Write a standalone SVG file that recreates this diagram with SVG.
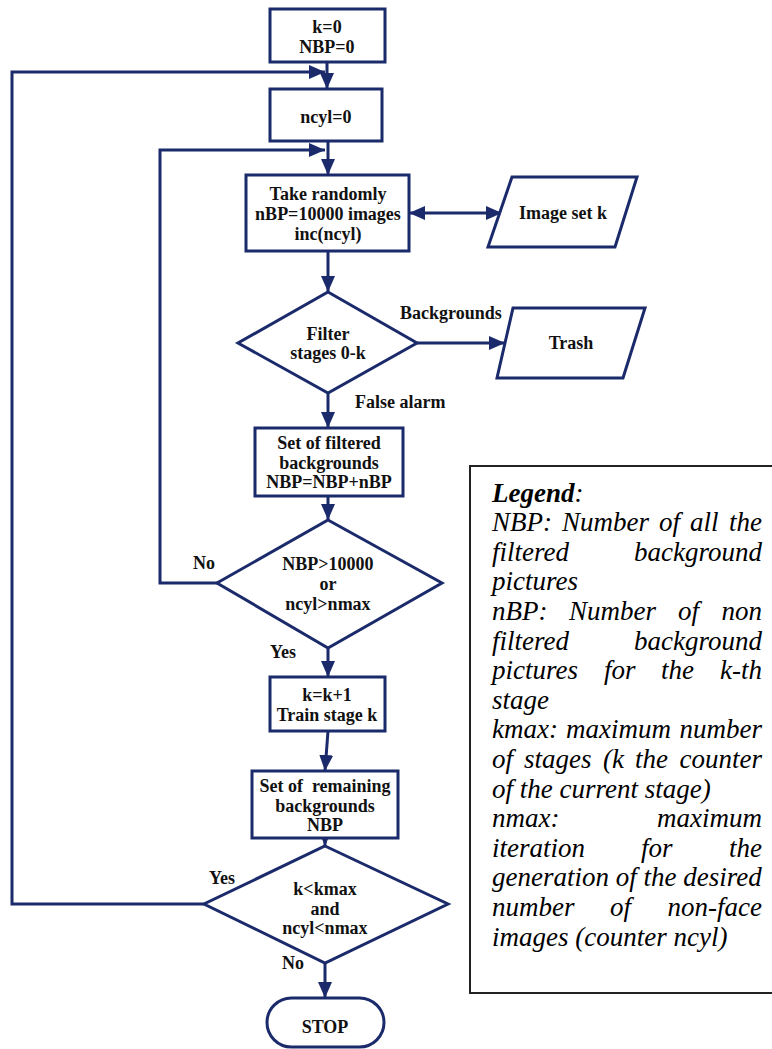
<svg xmlns="http://www.w3.org/2000/svg" width="772" height="1049" viewBox="0 0 772 1049">
<defs>
<style>
.shape{fill:#fff;stroke:#1b2a6b;stroke-width:3}
.conn{fill:none;stroke:#1b2a6b;stroke-width:3}
.t{font-family:"Liberation Serif","Times New Roman",serif;font-weight:bold;font-size:18px;fill:#111;text-anchor:middle}
.lbl{font-family:"Liberation Serif","Times New Roman",serif;font-weight:bold;font-size:18px;fill:#111}
.lg{font-family:"Liberation Serif","Times New Roman",serif;font-style:italic;font-size:27px;fill:#000}
.e{text-anchor:end}
</style>
<marker id="arr" markerUnits="userSpaceOnUse" markerWidth="17" markerHeight="15" refX="16" refY="7" orient="auto-start-reverse">
<path d="M0,0 L16,7 L0,14 z" fill="#1b2a6b"/>
</marker>
</defs>
<rect width="772" height="1049" fill="#fff"/>

<g id="connectors">
<line class="conn" x1="327" y1="62" x2="327" y2="89" marker-end="url(#arr)"/>
<polyline class="conn" points="204,904 12,904 12,72 325,72" marker-end="url(#arr)"/>
<line class="conn" x1="328" y1="141" x2="328" y2="175" marker-end="url(#arr)"/>
<polyline class="conn" points="217,583 160,583 160,150 325,150" marker-end="url(#arr)"/>
<line class="conn" x1="409" y1="213" x2="502" y2="213" marker-start="url(#arr)" marker-end="url(#arr)"/>
<line class="conn" x1="328" y1="251" x2="328" y2="292" marker-end="url(#arr)"/>
<line class="conn" x1="417" y1="343" x2="505" y2="343" marker-end="url(#arr)"/>
<line class="conn" x1="328" y1="393" x2="328" y2="428" marker-end="url(#arr)"/>
<line class="conn" x1="328" y1="496" x2="328" y2="520" marker-end="url(#arr)"/>
<line class="conn" x1="328" y1="648" x2="328" y2="677" marker-end="url(#arr)"/>
<line class="conn" x1="328" y1="731" x2="325" y2="771" marker-end="url(#arr)"/>
<line class="conn" x1="325" y1="830" x2="325" y2="846" marker-end="url(#arr)"/>
<line class="conn" x1="325" y1="963" x2="325" y2="998" marker-end="url(#arr)"/>
<text class="lbl" x="400" y="319">Backgrounds</text>
<text class="lbl" x="355" y="408">False alarm</text>
<text class="lbl" x="193" y="569">No</text>
<text class="lbl" x="270" y="658">Yes</text>
<text class="lbl" x="209" y="884">Yes</text>
<text class="lbl" x="282" y="969">No</text>
</g>

<g id="n_init">
<rect class="shape" x="270" y="9" width="115" height="53"/>
<text class="t" x="327" y="33">k=0</text>
<text class="t" x="327" y="53">NBP=0</text>
</g>

<g id="n_ncyl">
<rect class="shape" x="270" y="89" width="112" height="52"/>
<text class="t" x="326" y="123">ncyl=0</text>
</g>

<g id="n_take">
<rect class="shape" x="246" y="175" width="163" height="76"/>
<text class="t" x="328" y="200">Take randomly</text>
<text class="t" x="328" y="220">nBP=10000 images</text>
<text class="t" x="328" y="240">inc(ncyl)</text>
</g>

<g id="n_imageset">
<polygon class="shape" points="512,177 637,177 615,247 488,247"/>
<text class="t" x="563" y="219">Image set k</text>
</g>

<g id="n_filter">
<polygon class="shape" points="328,292 417,343 328,393 238,343"/>
<text class="t" x="328" y="340">Filter</text>
<text class="t" x="328" y="359">stages 0-k</text>
</g>

<g id="n_trash">
<polygon class="shape" points="513,308 645,308 623,378 497,378"/>
<text class="t" x="571" y="349">Trash</text>
</g>

<g id="n_filtered">
<rect class="shape" x="255" y="428" width="148" height="68"/>
<text class="t" x="329" y="449">Set of filtered</text>
<text class="t" x="329" y="469">backgrounds</text>
<text class="t" x="329" y="488">NBP=NBP+nBP</text>
</g>

<g id="n_check1">
<polygon class="shape" points="328,520 442,583 328,648 217,583"/>
<text class="t" x="328" y="570">NBP&gt;10000</text>
<text class="t" x="328" y="590">or</text>
<text class="t" x="328" y="610">ncyl&gt;nmax</text>
</g>

<g id="n_train">
<rect class="shape" x="270" y="677" width="115" height="54"/>
<text class="t" x="327" y="701">k=k+1</text>
<text class="t" x="327" y="721">Train stage k</text>
</g>

<g id="n_remaining">
<rect class="shape" x="252" y="771" width="146" height="67"/>
<text class="t" x="325" y="792" xml:space="preserve">Set of  remaining</text>
<text class="t" x="325" y="812">backgrounds</text>
<text class="t" x="325" y="831">NBP</text>
</g>

<g id="n_check2">
<polygon class="shape" points="325,846 448,904 325,963 204,904"/>
<text class="t" x="325" y="895">k&lt;kmax</text>
<text class="t" x="325" y="915">and</text>
<text class="t" x="325" y="934">ncyl&lt;nmax</text>
</g>

<g id="n_stop">
<rect class="shape" x="267" y="998" width="117" height="49" rx="24.5" ry="24.5"/>
<text class="t" x="325" y="1033">STOP</text>
</g>

<g id="legend">
<rect x="470" y="466" width="310" height="527" fill="#fff" stroke="#222" stroke-width="2"/>
<text class="lg" x="492" y="502"><tspan font-weight="bold">Legend</tspan>:</text>
<text class="lg" y="531"><tspan x="492">NBP:</tspan><tspan x="562">Number</tspan><tspan x="659">of</tspan><tspan x="690">all</tspan><tspan x="729">the</tspan></text>
<text class="lg" x="492" y="561">filtered</text><text class="lg e" x="762" y="561">background</text>
<text class="lg" x="492" y="590">pictures</text>
<text class="lg" y="620"><tspan x="492">nBP:</tspan><tspan x="569">Number</tspan><tspan x="678">of</tspan></text><text class="lg e" x="762" y="620">non</text>
<text class="lg" x="492" y="650">filtered</text><text class="lg e" x="762" y="650">background</text>
<text class="lg" y="679"><tspan x="492">pictures</tspan><tspan x="604">for</tspan><tspan x="661">the</tspan></text><text class="lg e" x="762" y="679">k-th</text>
<text class="lg" x="492" y="709">stage</text>
<text class="lg" y="738"><tspan x="492">kmax:</tspan><tspan x="566">maximum</tspan></text><text class="lg e" x="762" y="738">number</text>
<text class="lg" y="768"><tspan x="492">of</tspan><tspan x="524">stages</tspan><tspan x="603">(k</tspan><tspan x="635">the</tspan></text><text class="lg e" x="762" y="768">counter</text>
<text class="lg" x="492" y="798">of the current stage)</text>
<text class="lg" x="492" y="827">nmax:</text><text class="lg e" x="762" y="827">maximum</text>
<text class="lg" y="857"><tspan x="492">iteration</tspan><tspan x="641">for</tspan></text><text class="lg e" x="762" y="857">the</text>
<text class="lg" x="492" y="886">generation of the desired</text>
<text class="lg" y="916"><tspan x="492">number</tspan><tspan x="610">of</tspan></text><text class="lg e" x="762" y="916">non-face</text>
<text class="lg" x="492" y="946">images (counter ncyl)</text>
</g>
</svg>
